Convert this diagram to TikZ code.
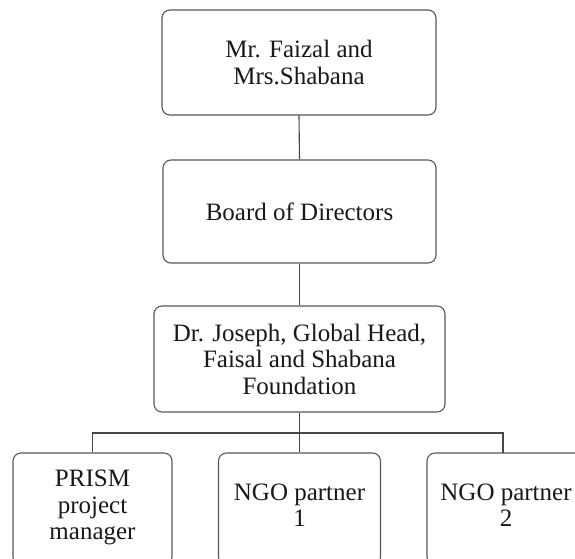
\documentclass[tikz,border=0pt]{standalone}
\usepackage{fontspec}
\setmainfont{Liberation Serif}
\definecolor{edgegray}{RGB}{88,88,88}
\definecolor{textdark}{RGB}{25,25,25}
\begin{document}
\begin{tikzpicture}[x=1pt,y=-1pt,
  orgbox/.style={draw=edgegray, line width=1.1pt, rounded corners=8pt, align=center,
    inner sep=0pt, text=textdark, font=\fontsize{25}{26.5}\selectfont},
  conn/.style={draw=edgegray!80!black, line width=1.1pt}]
\clip (0,0) rectangle (575,558);
\fill[white] (0,0) rectangle (575,558);
\node[orgbox, minimum width=274pt, minimum height=105pt] (A) at (299,62.5) {Mr. Faizal and\\Mrs.Shabana};
\node[orgbox, minimum width=273pt, minimum height=103pt] (B) at (299.5,211.5) {Board of Directors};
\node[orgbox, minimum width=291pt, minimum height=106pt] (C) at (299.5,359) {Dr. Joseph, Global Head,\\Faisal and Shabana\\Foundation};
\node[orgbox, minimum width=159pt, minimum height=112pt] (D) at (92.5,509) {PRISM\\project\\manager\\[-18.5pt]};
\node[orgbox, minimum width=162pt, minimum height=112pt] (E) at (299.5,509) {NGO partner\\1\\[-18.5pt]};
\node[orgbox, minimum width=158pt, minimum height=112pt] (F) at (506,509) {NGO partner\\2\\[-18.5pt]};
\coordinate (bar) at (299.5,433);
\coordinate (Ftop) at (503,453);
\draw[conn] (A.south) -- (B.north);
\draw[conn] (B.south) -- (C.north);
\draw[conn] (C.south) -- (E.north);
\draw[conn] (D.north) |- (bar) -| (Ftop);
\end{tikzpicture}
\end{document}
